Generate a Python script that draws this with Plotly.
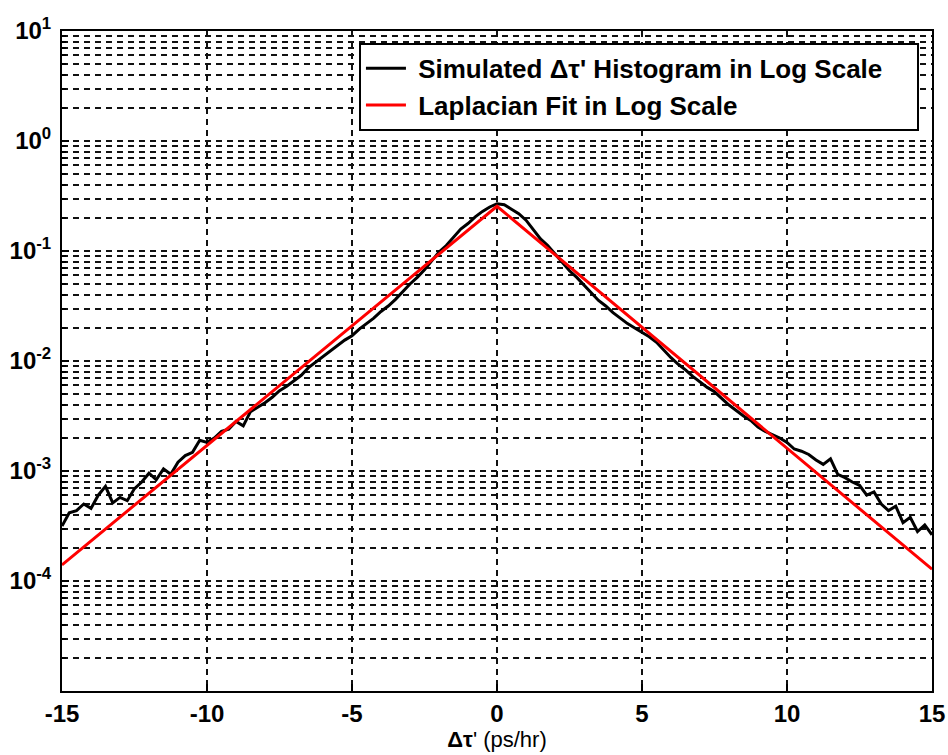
import plotly.graph_objects as go

# Bin centres of the simulated histogram (ps/hr)
x_hist = [i * 0.25 - 15 for i in range(121)]

# log10 of the normalised histogram counts at each bin centre
hist_log10 = [
    -3.50, -3.38, -3.36, -3.30, -3.34, -3.22, -3.14, -3.29, -3.24, -3.27,
    -3.16, -3.10, -3.02, -3.08, -2.98, -3.03, -2.92, -2.86, -2.83, -2.72,
    -2.74, -2.70, -2.64, -2.62, -2.55, -2.59, -2.46, -2.42, -2.38, -2.33,
    -2.27, -2.23, -2.18, -2.13, -2.06, -2.01, -1.96, -1.91, -1.86, -1.81,
    -1.77, -1.71, -1.66, -1.61, -1.55, -1.50, -1.44, -1.37, -1.30, -1.24,
    -1.17, -1.09, -1.01, -0.95, -0.87, -0.80, -0.75, -0.69, -0.64, -0.60,
    -0.57,
    -0.58, -0.62, -0.66, -0.72, -0.80, -0.89, -0.95, -1.03, -1.10, -1.18,
    -1.24, -1.31, -1.38, -1.45, -1.50, -1.56, -1.61, -1.66, -1.70, -1.74,
    -1.78, -1.83, -1.90, -1.97, -2.03, -2.08, -2.14, -2.19, -2.24, -2.28,
    -2.34, -2.40, -2.45, -2.50, -2.54, -2.60, -2.64, -2.67, -2.70, -2.74,
    -2.80, -2.82, -2.85, -2.90, -2.94, -2.89, -3.03, -3.06, -3.10, -3.13,
    -3.22, -3.19, -3.30, -3.36, -3.32, -3.47, -3.42, -3.55, -3.49, -3.58,
]
hist_vals = [10 ** v for v in hist_log10]

# Laplacian fit: straight line on the log axis through the ends and the peak
x_fit = [-15, 0, 15]
fit_vals = [1.40e-4, 0.255, 1.28e-4]

# Tick positions and labels
x_ticks = [-15, -10, -5, 0, 5, 10, 15]
y_exponents = [-4, -3, -2, -1, 0, 1]
y_ticks = [10.0 ** e for e in y_exponents]
y_labels = [f"<b>10<sup>{e}</sup></b>" for e in y_exponents]

font_main = "Liberation Sans, Arial, sans-serif"
nbsp = "\u00a0"

fig = go.Figure()
fig.add_trace(go.Scatter(
    x=x_hist, y=hist_vals, mode="lines",
    line=dict(color="black", width=3),
    name=f"{nbsp}<b>Simulated Δτ' Histogram in Log Scale</b>{nbsp * 4}",
))
fig.add_trace(go.Scatter(
    x=x_fit, y=fit_vals, mode="lines",
    line=dict(color="#ff0000", width=3),
    name=f"{nbsp}<b>Laplacian Fit in Log Scale</b>",
))

grid_dash = "6px,5px"
grid_color = "#111111"
grid_w = 1.6

fig.update_layout(
    width=948, height=755,
    margin=dict(l=62, r=16, t=31, b=64),
    paper_bgcolor="white", plot_bgcolor="white",
    font=dict(family=font_main, color="black"),
    showlegend=True,
    legend=dict(
        x=0.985, y=0.982, xanchor="right", yanchor="top",
        bgcolor="white", bordercolor="black", borderwidth=2,
        font=dict(size=26, family=font_main, color="black"),
        tracegroupgap=0, itemwidth=40,
    ),
    xaxis=dict(
        range=[-15, 15], tickvals=x_ticks,
        ticktext=[f"<b>{t}</b>" for t in x_ticks],
        tickfont=dict(size=24, family=font_main),
        ticks="inside", ticklen=7, tickwidth=2, tickcolor="black",
        showline=True, linecolor="black", linewidth=2, mirror=True,
        showgrid=True, gridcolor=grid_color, gridwidth=grid_w, griddash=grid_dash,
        zeroline=False, automargin=False,
        title=dict(text="<b>Δτ</b>' (ps/hr)", font=dict(size=22, family=font_main),
                   standoff=6),
    ),
    yaxis=dict(
        type="log", range=[-5, 1], tickvals=y_ticks, ticktext=y_labels,
        tickfont=dict(size=24, family=font_main),
        ticks="inside", ticklen=7, tickwidth=2, tickcolor="black",
        showline=True, linecolor="black", linewidth=2, mirror=True,
        showgrid=True, gridcolor=grid_color, gridwidth=grid_w, griddash=grid_dash,
        zeroline=False, automargin=False, ticklabelstandoff=4,
        minor=dict(dtick="D1", showgrid=True, gridcolor=grid_color,
                   gridwidth=grid_w, griddash=grid_dash,
                   ticks="inside", ticklen=4, tickcolor="black"),
    ),
)

fig.write_html("out.html")
